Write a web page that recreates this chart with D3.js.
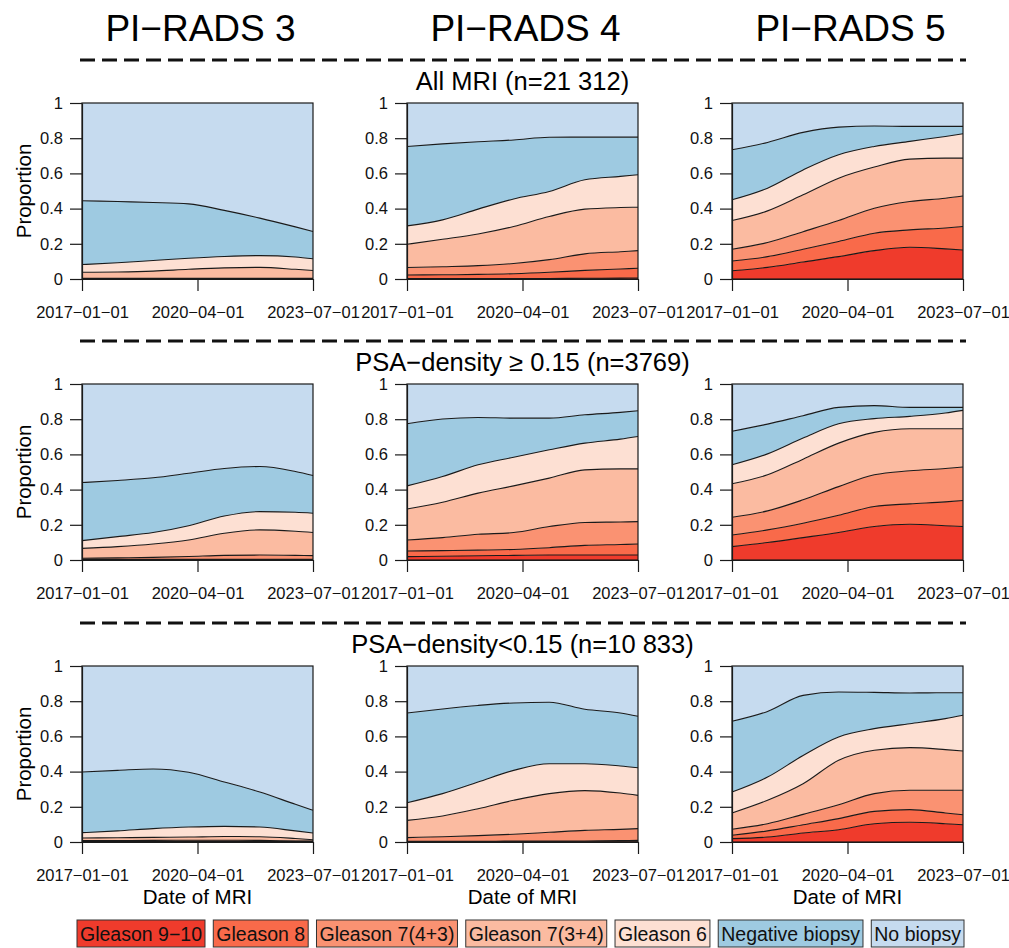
<!DOCTYPE html>
<html>
<head>
<meta charset="utf-8">
<script src="https://cdn.jsdelivr.net/npm/d3@7"></script>
<style>
  body { margin: 0; background: #fff; }
  svg { font-family: "Liberation Sans", Arial, sans-serif; }
</style>
</head>
<body>
<svg id="chart" width="1009" height="948"></svg>
<script>
// categories, bottom of the stack first
const categories = ["Gleason 9\u221210", "Gleason 8", "Gleason 7(4+3)", "Gleason 7(3+4)", "Gleason 6", "Negative biopsy", "No biopsy"];
const colors = ["#EF3B2C", "#F96A4A", "#FA9272", "#FBBBA1", "#FDE0D3", "#9ECAE1", "#C6DBEF"];

const columnTitles = ["PI\u2212RADS 3", "PI\u2212RADS 4", "PI\u2212RADS 5"];
const rowTitles = ["All MRI (n=21 312)", "PSA\u2212density \u2265 0.15 (n=3769)", "PSA\u2212density<0.15 (n=10 833)"];
const dates = ["2017-01-01", "2018-01-01", "2019-01-01", "2020-01-01", "2021-01-01", "2022-01-01", "2023-01-01", "2023-07-01"];
const xTicks = ["2017-01-01", "2020-04-01", "2023-07-01"];
const yTicks = [0, 0.2, 0.4, 0.6, 0.8, 1];

// cumulative proportion at the top of each category (No biopsy always reaches 1)
// rows: Gleason 9-10, Gleason 8, Gleason 7(4+3), Gleason 7(3+4), Gleason 6, Negative biopsy
const pr3All = [
  [0.001, 0.001, 0.001, 0.001, 0.001, 0.001, 0.001, 0.001],
  [0.002, 0.002, 0.002, 0.002, 0.002, 0.002, 0.002, 0.002],
  [0.004, 0.004, 0.004, 0.004, 0.004, 0.004, 0.004, 0.004],
  [0.038, 0.040, 0.045, 0.055, 0.063, 0.066, 0.055, 0.048],
  [0.082, 0.092, 0.105, 0.118, 0.128, 0.133, 0.125, 0.115],
  [0.445, 0.440, 0.435, 0.427, 0.390, 0.346, 0.296, 0.270]
];
const pr4All = [
  [0.002, 0.002, 0.002, 0.002, 0.003, 0.004, 0.005, 0.006],
  [0.023, 0.024, 0.026, 0.030, 0.038, 0.049, 0.057, 0.061],
  [0.065, 0.070, 0.076, 0.088, 0.110, 0.143, 0.155, 0.161],
  [0.197, 0.226, 0.256, 0.298, 0.355, 0.397, 0.406, 0.408],
  [0.302, 0.336, 0.397, 0.455, 0.497, 0.564, 0.583, 0.592],
  [0.753, 0.768, 0.780, 0.790, 0.805, 0.806, 0.806, 0.806]
];
const pr5All = [
  [0.047, 0.066, 0.097, 0.127, 0.161, 0.180, 0.171, 0.165],
  [0.102, 0.127, 0.169, 0.213, 0.260, 0.279, 0.290, 0.298],
  [0.169, 0.207, 0.269, 0.332, 0.402, 0.440, 0.459, 0.472],
  [0.332, 0.387, 0.478, 0.573, 0.636, 0.681, 0.687, 0.687],
  [0.450, 0.516, 0.620, 0.706, 0.753, 0.782, 0.810, 0.825],
  [0.734, 0.776, 0.833, 0.863, 0.869, 0.867, 0.867, 0.867]
];
const pr3High = [
  [0.002, 0.002, 0.002, 0.002, 0.002, 0.002, 0.002, 0.002],
  [0.004, 0.004, 0.004, 0.004, 0.004, 0.004, 0.004, 0.004],
  [0.010, 0.012, 0.015, 0.020, 0.026, 0.028, 0.026, 0.025],
  [0.066, 0.076, 0.091, 0.114, 0.152, 0.171, 0.163, 0.156],
  [0.110, 0.133, 0.156, 0.195, 0.250, 0.275, 0.271, 0.266],
  [0.440, 0.452, 0.467, 0.493, 0.520, 0.531, 0.503, 0.480]
];
const pr4High = [
  [0.019, 0.021, 0.024, 0.026, 0.028, 0.028, 0.028, 0.028],
  [0.051, 0.053, 0.056, 0.060, 0.070, 0.083, 0.088, 0.091],
  [0.114, 0.127, 0.146, 0.156, 0.190, 0.213, 0.216, 0.218],
  [0.290, 0.328, 0.380, 0.421, 0.465, 0.512, 0.518, 0.518],
  [0.421, 0.474, 0.541, 0.584, 0.626, 0.664, 0.687, 0.702],
  [0.774, 0.801, 0.810, 0.806, 0.806, 0.825, 0.839, 0.848]
];
const pr5High = [
  [0.076, 0.099, 0.127, 0.156, 0.190, 0.203, 0.195, 0.190],
  [0.142, 0.171, 0.209, 0.254, 0.304, 0.319, 0.330, 0.338],
  [0.243, 0.279, 0.342, 0.417, 0.484, 0.507, 0.520, 0.528],
  [0.433, 0.484, 0.573, 0.664, 0.725, 0.746, 0.746, 0.746],
  [0.541, 0.603, 0.693, 0.774, 0.803, 0.816, 0.835, 0.850],
  [0.731, 0.772, 0.820, 0.867, 0.877, 0.867, 0.867, 0.867]
];
const pr3Low = [
  [0.002, 0.002, 0.002, 0.002, 0.002, 0.002, 0.002, 0.002],
  [0.004, 0.004, 0.004, 0.004, 0.004, 0.004, 0.004, 0.004],
  [0.008, 0.008, 0.009, 0.010, 0.010, 0.009, 0.006, 0.005],
  [0.023, 0.024, 0.026, 0.028, 0.031, 0.030, 0.020, 0.013],
  [0.053, 0.063, 0.076, 0.085, 0.089, 0.085, 0.063, 0.051],
  [0.398, 0.407, 0.415, 0.396, 0.341, 0.284, 0.214, 0.180]
];
const pr4Low = [
  [0.001, 0.001, 0.001, 0.001, 0.001, 0.001, 0.001, 0.001],
  [0.004, 0.004, 0.004, 0.005, 0.005, 0.006, 0.008, 0.009],
  [0.025, 0.030, 0.036, 0.044, 0.055, 0.066, 0.072, 0.076],
  [0.123, 0.148, 0.189, 0.237, 0.275, 0.292, 0.278, 0.265],
  [0.223, 0.275, 0.341, 0.407, 0.445, 0.445, 0.432, 0.422],
  [0.733, 0.756, 0.776, 0.790, 0.794, 0.754, 0.733, 0.714]
];
const pr5Low = [
  [0.019, 0.028, 0.051, 0.070, 0.104, 0.112, 0.104, 0.098],
  [0.038, 0.063, 0.098, 0.133, 0.174, 0.184, 0.165, 0.155],
  [0.072, 0.104, 0.157, 0.212, 0.275, 0.294, 0.294, 0.294],
  [0.165, 0.237, 0.331, 0.464, 0.521, 0.536, 0.525, 0.517],
  [0.284, 0.369, 0.492, 0.597, 0.644, 0.672, 0.701, 0.720],
  [0.686, 0.742, 0.833, 0.852, 0.850, 0.847, 0.848, 0.848]
];

const panels = [
  [pr3All, pr4All, pr5All],
  [pr3High, pr4High, pr5High],
  [pr3Low, pr4Low, pr5Low]
];

const W = 231, H = 176;
const colX = [82, 407, 732];
const rowY = [103, 384, 666];
const parse = d3.timeParse("%Y-%m-%d");
const fmt = d3.timeFormat("%Y\u2212%m\u2212%d");

const svg = d3.select("#chart");

const x = d3.scaleTime().domain([parse(dates[0]), parse(dates[dates.length - 1])]).range([0, W]);
const y = d3.scaleLinear().domain([0, 1]).range([H, 0]);

const area = d3.area()
  .x(d => x(d.date))
  .y0(d => y(d.lo))
  .y1(d => y(d.hi))
  .curve(d3.curveMonotoneX);
const line = d3.line()
  .x(d => x(d.date))
  .y(d => y(d.v))
  .curve(d3.curveMonotoneX);

// column titles
svg.selectAll("text.coltitle").data(columnTitles).enter().append("text")
  .attr("class", "coltitle")
  .attr("x", (d, i) => colX[i] + W / 2 + 3)
  .attr("y", 41)
  .attr("text-anchor", "middle")
  .attr("font-size", 37)
  .text(d => d);

panels.forEach((row, r) => {
  // dashed separator and row title
  svg.append("line")
    .attr("x1", 80).attr("x2", 966)
    .attr("y1", rowY[r] - 43).attr("y2", rowY[r] - 43)
    .attr("stroke", "#111").attr("stroke-width", 3)
    .attr("stroke-dasharray", "15,7");
  svg.append("text")
    .attr("x", colX[1] + W / 2)
    .attr("y", rowY[r] - 13)
    .attr("text-anchor", "middle")
    .attr("font-size", 25.5)
    .text(rowTitles[r]);

  row.forEach((bounds, c) => {
    const g = svg.append("g").attr("transform", `translate(${colX[c]},${rowY[r]})`);
    const levels = [dates.map(() => 0), ...bounds, dates.map(() => 1)];

    categories.forEach((cat, k) => {
      const pts = dates.map((d, i) => ({ date: parse(d), lo: levels[k][i], hi: levels[k + 1][i] }));
      g.append("path").attr("d", area(pts)).attr("fill", colors[k]);
    });

    bounds.forEach(b => {
      const pts = dates.map((d, i) => ({ date: parse(d), v: b[i] }));
      g.append("path").attr("d", line(pts))
        .attr("fill", "none").attr("stroke", "#1a1a1a").attr("stroke-width", 1.1);
    });

    g.append("rect").attr("width", W).attr("height", H)
      .attr("fill", "none").attr("stroke", "#1a1a1a").attr("stroke-width", 1.2);

    const yAxis = g.append("g")
      .call(d3.axisLeft(y).tickValues(yTicks).tickSize(12).tickSizeOuter(0).tickPadding(7).tickFormat(d3.format("")));
    const xAxis = g.append("g").attr("transform", `translate(0,${H})`)
      .call(d3.axisBottom(x).tickValues(xTicks.map(parse)).tickSize(12).tickSizeOuter(0).tickPadding(15).tickFormat(fmt));

    [yAxis, xAxis].forEach(a => {
      a.attr("font-family", null).attr("font-size", 16.5);
      a.selectAll("line, path").attr("stroke", "#1a1a1a").attr("stroke-width", 1.2);
      a.selectAll("text").attr("fill", "#111");
    });

    if (c === 0) {
      g.append("text")
        .attr("transform", `translate(-51,${H / 2}) rotate(-90)`)
        .attr("text-anchor", "middle")
        .attr("font-size", 20.5)
        .text("Proportion");
    }
    if (r === 2) {
      g.append("text")
        .attr("x", W / 2).attr("y", H + 62)
        .attr("text-anchor", "middle")
        .attr("font-size", 20.5)
        .text("Date of MRI");
    }
  });
});

// legend: boxes spread between x=77 and x=964
const legend = svg.append("g").attr("transform", "translate(0,920)");
const items = legend.selectAll("g").data(categories).enter().append("g");
items.append("rect")
  .attr("height", 27)
  .attr("fill", (d, i) => colors[i])
  .attr("stroke", "#333").attr("stroke-width", 1);
items.append("text")
  .attr("y", 20.5)
  .attr("font-size", 19.5)
  .attr("fill", "#111")
  .text(d => d);

const pad = 3;
const widths = [];
items.selectAll("text").each(function () { widths.push(this.getComputedTextLength() + pad * 2); });
const gap = (964 - 77 - d3.sum(widths)) / (widths.length - 1);
let cx = 77;
items.each(function (d, i) {
  const it = d3.select(this).attr("transform", `translate(${cx},0)`);
  it.select("rect").attr("width", widths[i]);
  it.select("text").attr("x", pad);
  cx += widths[i] + gap;
});
</script>
</body>
</html>
